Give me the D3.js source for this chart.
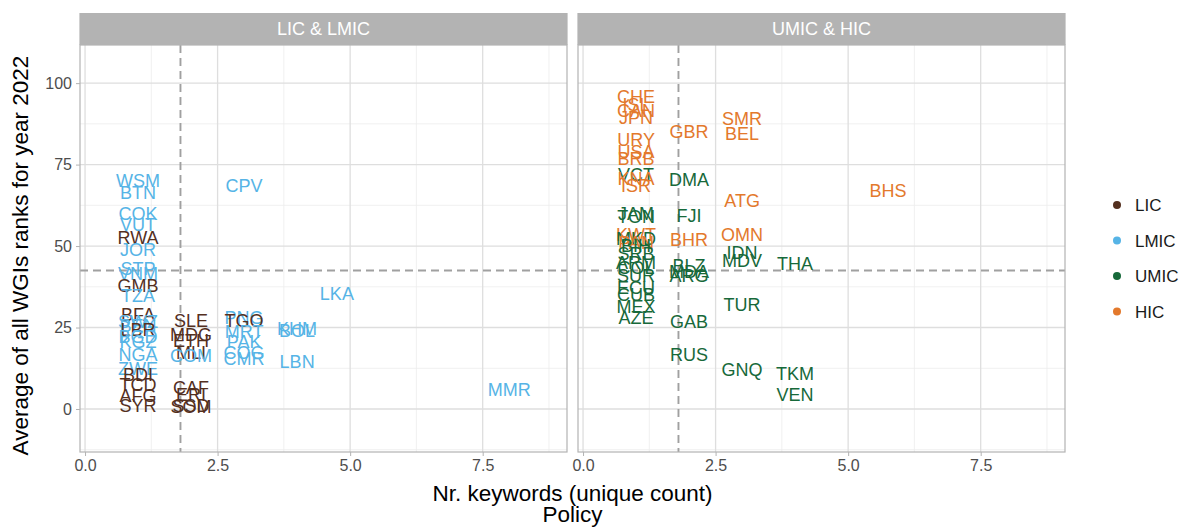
<!DOCTYPE html>
<html>
<head>
<meta charset="utf-8">
<script src="https://cdn.jsdelivr.net/npm/d3@7"></script>
<style>
  body { margin: 0; background: #fff; }
  text { font-family: "Liberation Sans", Arial, sans-serif; }
</style>
</head>
<body>
<script>
// data
const codes = [
  'WSM','BTN','CPV','COK','VUT','RWA','JOR','STP','VNM','GMB','TZA','BFA','SWZ','BEN','LBR','BGD','KGZ','NGA','ZWE','BDI','TCD','AFG','SYR',
  'SLE','MDG','ETH','MLI','COM','CAF','ERI','SSD','SOM','PNG','TGO','MRT','PAK','COG','CMR','KHM','BOL','LBN','LKA','MMR',
  'CHE','ISL','CAN','JPN','URY','USA','BRB','VCT','KNA','ISR','GBR','DMA','SMR','BEL','ATG','OMN','IDN','MDV','THA','BHS',
  'FJI','BHR','BLZ','MDA','ARG','GAB','RUS','TUR','GNQ','TKM','VEN','JAM','TON','KWT','MKD','PAN','BIH','SRB','ARM','COL','SUR','ECU','CUB','MEX','AZE'
]
const nrKeywords = [
  1,1,3,1,1,1,1,1,1,1,1,1,1,1,1,1,1,1,1,1,1,1,1,
  2,2,2,2,2,2,2,2,2,3,3,3,3,3,3,4,4,4,4.75,8,
  1,1,1,1,1,1,1,1,1,1,2,2,3,3,3,3,3,3,4,5.75,
  2,2,2,2,2,2,2,3,3,4,4,1,1,1,1,1,1,1,1,1,1,1,1,1,1
]
const avgRank = [
  70,66.5,68.5,60,56.5,52.5,49,43,41.5,37.8,34.8,29,26.8,25.5,24.3,22.3,20.6,16.6,12.5,10.5,7.5,4,1.2,
  27.3,23,21,17.3,16.4,6.6,4.3,1.2,0.9,28.2,27,23.8,20.8,17.2,15.4,24.6,24,14.5,35.5,6,
  96,93.3,91.7,89.4,82.7,79,76.8,72,70.8,68.6,85.3,70.3,89,84.5,64,53.5,48,45.5,44.5,67,
  59.5,52,44,42.3,41,26.8,16.6,32,12,11,4.5,60,59,53.4,52.2,51.2,50.3,47.8,44.8,43.3,41,37.4,35,31.3,28
]
const incomeGroup = [
  'LMIC','LMIC','LMIC','LMIC','LMIC','LIC','LMIC','LMIC','LMIC','LIC','LMIC','LIC','LMIC','LMIC','LIC','LMIC','LMIC','LMIC','LMIC','LIC','LIC','LIC','LIC',
  'LIC','LIC','LIC','LIC','LMIC','LIC','LIC','LIC','LIC','LMIC','LIC','LMIC','LMIC','LMIC','LMIC','LMIC','LMIC','LMIC','LMIC','LMIC',
  'HIC','HIC','HIC','HIC','HIC','HIC','HIC','UMIC','HIC','HIC','HIC','UMIC','HIC','HIC','HIC','HIC','UMIC','UMIC','UMIC','HIC',
  'UMIC','HIC','UMIC','UMIC','UMIC','UMIC','UMIC','UMIC','UMIC','UMIC','UMIC','UMIC','UMIC','HIC','UMIC','HIC','UMIC','UMIC','UMIC','UMIC','UMIC','UMIC','UMIC','UMIC','UMIC'
]
const groups = ['LIC', 'LMIC', 'UMIC', 'HIC']
const groupColors = ['#54301f', '#56b4e6', '#17693a', '#e3792c']
const facets = ['LIC & LMIC', 'UMIC & HIC']
const xTicks = [0, 2.5, 5, 7.5]
const yTicks = [0, 25, 50, 75, 100]
const xCut = 1.8   // dashed vertical line
const yCut = 42.5  // dashed horizontal line

const data = codes.map((c, i) => ({
  code: c, x: nrKeywords[i], y: avgRank[i], group: incomeGroup[i],
  facet: (incomeGroup[i] === 'LIC' || incomeGroup[i] === 'LMIC') ? facets[0] : facets[1]
}))

// layout
const W = 1202, H = 528
const panel = {top: 45, bottom: 452, width: 487, lefts: [80, 578]}
const stripH = 32

const colour = d3.scaleOrdinal().domain(groups).range(groupColors)

const x = d3.scaleLinear().domain([-0.095, 9.09]).range([0, panel.width])
const y = d3.scaleLinear().domain([-13.2, 111.7]).range([panel.bottom, panel.top])

const svg = d3.select('body').append('svg')
  .attr('width', W)
  .attr('height', H)

facets.forEach((f, k) => {
  const g = svg.append('g').attr('transform', `translate(${panel.lefts[k]},0)`)

  // minor grid
  const xMinor = xTicks.map(t => t + 1.25)
  const yMinor = [-12.5, 12.5, 37.5, 62.5, 87.5]
  g.selectAll('.xminor').data(xMinor).join('line')
    .attr('x1', d => x(d)).attr('x2', d => x(d))
    .attr('y1', panel.top).attr('y2', panel.bottom)
    .attr('stroke', '#ececec').attr('stroke-width', 0.8)
  g.selectAll('.yminor').data(yMinor.filter(d => y(d) < panel.bottom)).join('line')
    .attr('x1', 0).attr('x2', panel.width)
    .attr('y1', d => y(d)).attr('y2', d => y(d))
    .attr('stroke', '#ececec').attr('stroke-width', 0.8)

  // major grid
  g.append('g').selectAll('line').data(xTicks).join('line')
    .attr('x1', d => x(d)).attr('x2', d => x(d))
    .attr('y1', panel.top).attr('y2', panel.bottom)
    .attr('stroke', '#dedede').attr('stroke-width', 1.3)
  g.append('g').selectAll('line').data(yTicks).join('line')
    .attr('x1', 0).attr('x2', panel.width)
    .attr('y1', d => y(d)).attr('y2', d => y(d))
    .attr('stroke', '#dedede').attr('stroke-width', 1.3)

  // reference lines
  g.append('line')
    .attr('x1', x(xCut)).attr('x2', x(xCut))
    .attr('y1', panel.top).attr('y2', panel.bottom)
    .attr('stroke', '#a0a0a0').attr('stroke-width', 1.9).attr('stroke-dasharray', '8,5')
  g.append('line')
    .attr('x1', 0).attr('x2', panel.width)
    .attr('y1', y(yCut)).attr('y2', y(yCut))
    .attr('stroke', '#a0a0a0').attr('stroke-width', 1.9).attr('stroke-dasharray', '8,5')

  // labels
  g.append('g').selectAll('text')
    .data(data.filter(d => d.facet === f))
    .join('text')
      .attr('x', d => x(d.x))
      .attr('y', d => y(d.y))
      .attr('dy', '0.36em')
      .attr('text-anchor', 'middle')
      .style('font-size', '18px')
      .attr('fill', d => colour(d.group))
      .text(d => d.code)

  // panel border
  g.append('rect')
    .attr('x', 0).attr('y', panel.top)
    .attr('width', panel.width).attr('height', panel.bottom - panel.top)
    .attr('fill', 'none').attr('stroke', '#b3b3b3').attr('stroke-width', 1.2)

  // strip
  g.append('rect')
    .attr('x', -0.6).attr('y', panel.top - stripH)
    .attr('width', panel.width + 1.2).attr('height', stripH)
    .attr('fill', '#b3b3b3')
  g.append('text')
    .attr('x', panel.width / 2).attr('y', panel.top - stripH / 2)
    .attr('dy', '0.36em')
    .attr('text-anchor', 'middle')
    .attr('fill', '#fff')
    .style('font-size', '18px')
    .text(f)

  // x axis
  const xAxis = g.append('g')
    .attr('transform', `translate(0,${panel.bottom})`)
    .call(d3.axisBottom(x).tickValues(xTicks).tickFormat(d3.format('.1f')).tickSize(4).tickPadding(4))
  xAxis.select('.domain').remove()
  xAxis.selectAll('line').attr('stroke', '#b3b3b3')
  xAxis.selectAll('text').attr('fill', '#4d4d4d').style('font-size', '16px')

  if (k === 0) {
    const yAxis = g.append('g')
      .call(d3.axisLeft(y).tickValues(yTicks).tickSize(4).tickPadding(4))
    yAxis.select('.domain').remove()
    yAxis.selectAll('line').attr('stroke', '#b3b3b3')
    yAxis.selectAll('text').attr('fill', '#4d4d4d').style('font-size', '16px')
  }
})

// axis titles
const xMid = (panel.lefts[0] + panel.lefts[1] + panel.width) / 2
svg.append('text')
  .attr('x', xMid).attr('y', 501)
  .attr('text-anchor', 'middle')
  .style('font-size', '22.5px')
  .text('Nr. keywords (unique count)')
svg.append('text')
  .attr('x', xMid).attr('y', 522)
  .attr('text-anchor', 'middle')
  .style('font-size', '22.5px')
  .text('Policy')
svg.append('text')
  .attr('transform', `translate(28,${(panel.top + panel.bottom) / 2 + 7}) rotate(-90)`)
  .attr('text-anchor', 'middle')
  .style('font-size', '22.5px')
  .text('Average of all WGIs ranks for year 2022')

// legend
const legend = svg.append('g').attr('transform', 'translate(1117,205)')
const item = legend.selectAll('g').data(groups).join('g')
  .attr('transform', (d, i) => `translate(0,${i * 35.5})`)
item.append('circle').attr('r', 4).attr('fill', d => colour(d))
item.append('text')
  .attr('x', 18).attr('dy', '0.36em')
  .style('font-size', '17px')
  .attr('fill', '#1a1a1a')
  .text(d => d)
</script>
</body>
</html>
